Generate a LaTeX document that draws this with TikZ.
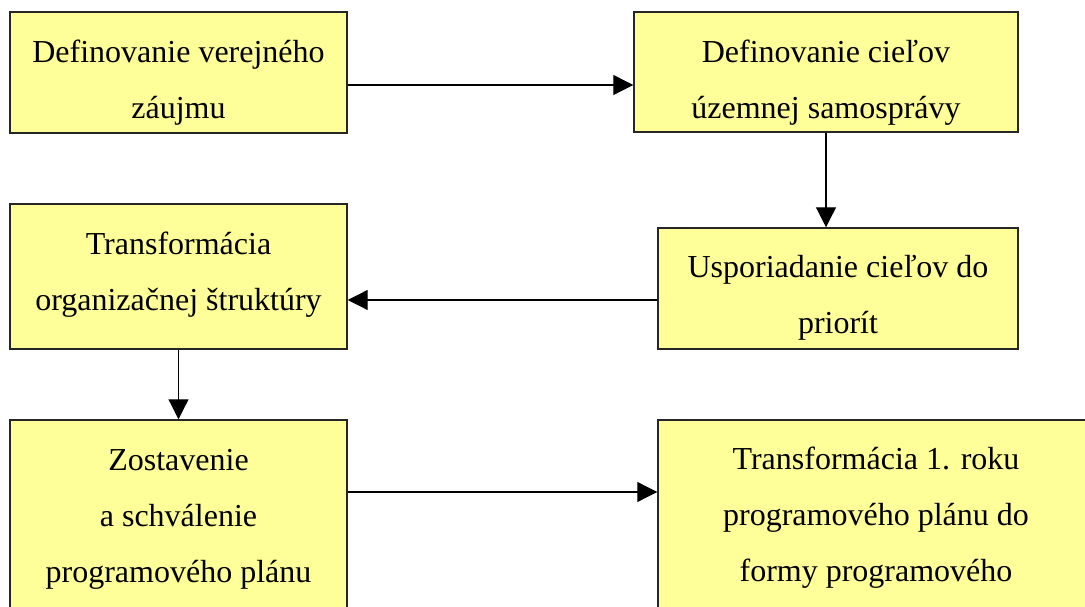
\documentclass[tikz,border=0pt]{standalone}
\usepackage{fontspec}
\setmainfont{Liberation Serif}
\usetikzlibrary{arrows.meta}
\definecolor{boxyellow}{HTML}{FFFF99}

\begin{document}
\begin{tikzpicture}[x=0.375pt,y=-0.375pt,
    box/.style={draw=black!85,line width=0.55pt,fill=boxyellow,inner sep=0pt},
    sz/.style 2 args={minimum width=#1*0.375pt,minimum height=#2*0.375pt},
    txt/.style={align=center,font=\fontsize{12}{21}\selectfont,inner sep=0pt},
    arr/.style={-{Triangle[length=7.5pt,width=7.5pt]},line width=0.45pt}]
    \clip (0,0) rectangle (1085,607);
    \node[box,sz={337}{121}] (zaujem) at (178.5,72.5) {};
    \node[box,sz={384}{120}] (ciele) at (826,72) {};
    \node[box,sz={360}{121}] (poradie) at (838,288.5) {};
    \node[box,sz={337}{145}] (struktura) at (178.5,276.5) {};
    \node[box,sz={337}{220}] (plan) at (178.5,530) {};
    \node[box,sz={452}{220}] (rok) at (884,530) {};
    \node[txt] (zaujemT) at (178.5,83) {Definovanie verejného\\záujmu};
    \node[txt] (cieleT) at (826,83) {Definovanie cieľov\\územnej samosprávy};
    \node[txt] (poradieT) at (838,298) {Usporiadanie cieľov do\\priorít};
    \node[txt] (strukturaT) at (178.5,274.5) {Transformácia\\organizačnej štruktúry};
    \node[txt] (planT) at (178.5,519) {Zostavenie\\a schválenie\\programového plánu};
    \node[txt] (rokT) at (876,518) {Transformácia 1. roku\\programového plánu do\\formy programového};
    \draw[arr] (zaujem.east |- 0,85) -- (ciele.west |- 0,85);
    \draw[arr] (ciele.south) -- (ciele.south |- poradie.north);
    \draw[arr] (poradie.west |- 0,300) -- (struktura.east |- 0,300);
    \draw[arr] (struktura.south) -- (plan.north);
    \draw[arr] (plan.east |- 0,492) -- (rok.west |- 0,492);
\end{tikzpicture}
\end{document}
